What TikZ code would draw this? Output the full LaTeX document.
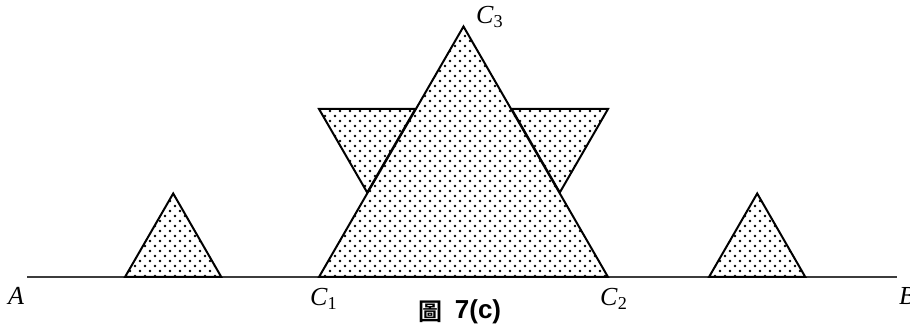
\documentclass[tikz,border=0pt]{standalone}
\usepackage{fontspec}
\setmainfont{Liberation Serif}
\setsansfont{Liberation Sans}
\newfontfamily\cjk{Noto Sans CJK TC Bold}
\usetikzlibrary{patterns}
\definecolor{LN}{RGB}{0,0,0}
\definecolor{AX}{RGB}{60,60,60}
% staggered dot screen
\pgfdeclarepatternformonly{stipple}{\pgfpoint{-1pt}{-1pt}}{\pgfpoint{6pt}{6pt}}{\pgfpoint{5pt}{5pt}}{%
  \pgfpathcircle{\pgfpoint{0pt}{0pt}}{0.7pt}%
  \pgfpathcircle{\pgfpoint{2.5pt}{2.5pt}}{0.7pt}%
  \pgfusepath{fill}%
}
\newcommand{\ptname}[2]{\textit{#1}\textsubscript{#2}}
\tikzset{
  % dotted triangle
  tri/.style={
    draw=LN, line width=1pt, line join=miter,
    pattern=stipple, pattern color=black
  },
  % baseline A--B
  axis/.style={draw=AX, line width=1pt},
  % point label
  plab/.style={font=\fontsize{13}{15}\selectfont, inner sep=0pt},
}

\begin{document}
\begin{tikzpicture}[x=0.5pt, y=-0.5pt]
\useasboundingbox (0,0) rectangle (910,331);

% ── Baseline ────────────────────────────────────────────────────────────────
\coordinate (lineA) at (27,277);
\coordinate (lineB) at (897,277);
\draw[axis] (lineA) -- (lineB);

% ── Corner points ───────────────────────────────────────────────────────────
\coordinate (C1) at (319,277);
\coordinate (C2) at (608,277);
\coordinate (C3) at (463.5,26.5);

% ── Upper tips (behind the middle triangle) ─────────────────────────────────
\draw[tri] (319,109) -- (415.3,109) -- (367.2,192.5) -- cycle;
\draw[tri] (511.7,109) -- (608,109) -- (559.8,192.5) -- cycle;

% ── Middle triangle ─────────────────────────────────────────────────────────
\draw[tri] (C1) -- (C2) -- (C3) -- cycle;

% ── Side triangles ──────────────────────────────────────────────────────────
\draw[tri] (125,277) -- (221.3,277) -- (173.2,193.5) -- cycle;
\draw[tri] (709,277) -- (805.3,277) -- (757.2,193.5) -- cycle;

% ── Labels ──────────────────────────────────────────────────────────────────
\node[plab] (labA)  at (16,296)  {\textit{A}};
\node[plab] (labB)  at (907,296) {\textit{B}};
\node[plab] (labC1) at (324,299) {\ptname{C}{1}};
\node[plab] (labC2) at (614,299) {\ptname{C}{2}};
\node[plab] (labC3) at (490,17)  {\ptname{C}{3}};

% ── Caption ─────────────────────────────────────────────────────────────────
\node[inner sep=0pt, font=\cjk\fontsize{12}{14}\selectfont] (capZh) at (430,312) {圖};
\node[inner sep=0pt, font=\sffamily\bfseries\fontsize{13}{15}\selectfont] (capNo) at (478,312) {7(c)};

\end{tikzpicture}
\end{document}
